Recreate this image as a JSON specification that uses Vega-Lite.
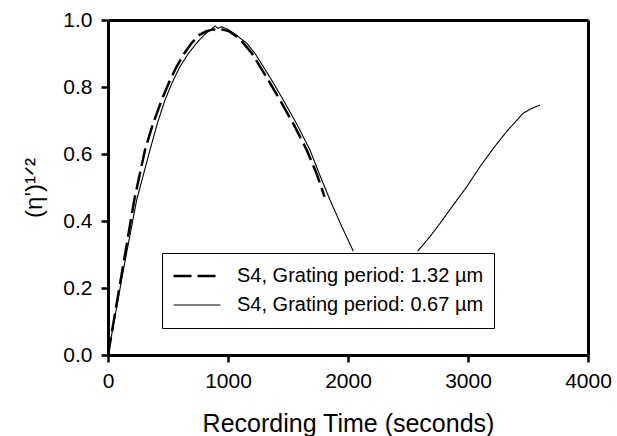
{
  "$schema": "https://vega.github.io/schema/vega-lite/v6.json",
  "autosize": "none",
  "width": 480,
  "height": 335,
  "padding": {"left": 108, "top": 20, "right": 29, "bottom": 81},
  "background": "white",
  "config": {
    "font": "Liberation Sans",
    "view": {"stroke": null},
    "axis": {
      "domainColor": "black", "domainWidth": 3,
      "tickColor": "black", "tickWidth": 2.5, "tickSize": 7,
      "labelColor": "black", "labelFontSize": 21, "labelFont": "Liberation Sans",
      "titleColor": "black", "titleFont": "Liberation Sans", "titleFontWeight": "normal",
      "grid": false
    }
  },
  "data": {
    "values": [
      {"series": "S4, Grating period: 1.32 µm", "part": "a", "t": 0, "v": 0},
      {"series": "S4, Grating period: 1.32 µm", "part": "a", "t": 120, "v": 0.254},
      {"series": "S4, Grating period: 1.32 µm", "part": "a", "t": 219, "v": 0.463},
      {"series": "S4, Grating period: 1.32 µm", "part": "a", "t": 308, "v": 0.612},
      {"series": "S4, Grating period: 1.32 µm", "part": "a", "t": 375, "v": 0.69},
      {"series": "S4, Grating period: 1.32 µm", "part": "a", "t": 447, "v": 0.761},
      {"series": "S4, Grating period: 1.32 µm", "part": "a", "t": 510, "v": 0.815},
      {"series": "S4, Grating period: 1.32 µm", "part": "a", "t": 572, "v": 0.861},
      {"series": "S4, Grating period: 1.32 µm", "part": "a", "t": 635, "v": 0.9},
      {"series": "S4, Grating period: 1.32 µm", "part": "a", "t": 697, "v": 0.931},
      {"series": "S4, Grating period: 1.32 µm", "part": "a", "t": 760, "v": 0.955},
      {"series": "S4, Grating period: 1.32 µm", "part": "a", "t": 820, "v": 0.967},
      {"series": "S4, Grating period: 1.32 µm", "part": "a", "t": 880, "v": 0.972},
      {"series": "S4, Grating period: 1.32 µm", "part": "a", "t": 950, "v": 0.972},
      {"series": "S4, Grating period: 1.32 µm", "part": "a", "t": 1010, "v": 0.966},
      {"series": "S4, Grating period: 1.32 µm", "part": "a", "t": 1070, "v": 0.952},
      {"series": "S4, Grating period: 1.32 µm", "part": "a", "t": 1128, "v": 0.931},
      {"series": "S4, Grating period: 1.32 µm", "part": "a", "t": 1200, "v": 0.9},
      {"series": "S4, Grating period: 1.32 µm", "part": "a", "t": 1267, "v": 0.861},
      {"series": "S4, Grating period: 1.32 µm", "part": "a", "t": 1350, "v": 0.812},
      {"series": "S4, Grating period: 1.32 µm", "part": "a", "t": 1433, "v": 0.761},
      {"series": "S4, Grating period: 1.32 µm", "part": "a", "t": 1545, "v": 0.69},
      {"series": "S4, Grating period: 1.32 µm", "part": "a", "t": 1656, "v": 0.612},
      {"series": "S4, Grating period: 1.32 µm", "part": "a", "t": 1740, "v": 0.54},
      {"series": "S4, Grating period: 1.32 µm", "part": "a", "t": 1805, "v": 0.472},
      {"series": "S4, Grating period: 0.67 µm", "part": "a", "t": 0, "v": 0},
      {"series": "S4, Grating period: 0.67 µm", "part": "a", "t": 128, "v": 0.254},
      {"series": "S4, Grating period: 0.67 µm", "part": "a", "t": 239, "v": 0.463},
      {"series": "S4, Grating period: 0.67 µm", "part": "a", "t": 350, "v": 0.612},
      {"series": "S4, Grating period: 0.67 µm", "part": "a", "t": 410, "v": 0.69},
      {"series": "S4, Grating period: 0.67 µm", "part": "a", "t": 475, "v": 0.761},
      {"series": "S4, Grating period: 0.67 µm", "part": "a", "t": 537, "v": 0.815},
      {"series": "S4, Grating period: 0.67 µm", "part": "a", "t": 600, "v": 0.861},
      {"series": "S4, Grating period: 0.67 µm", "part": "a", "t": 670, "v": 0.9},
      {"series": "S4, Grating period: 0.67 µm", "part": "a", "t": 739, "v": 0.931},
      {"series": "S4, Grating period: 0.67 µm", "part": "a", "t": 800, "v": 0.955},
      {"series": "S4, Grating period: 0.67 µm", "part": "a", "t": 860, "v": 0.972},
      {"series": "S4, Grating period: 0.67 µm", "part": "a", "t": 892, "v": 0.982},
      {"series": "S4, Grating period: 0.67 µm", "part": "a", "t": 915, "v": 0.975},
      {"series": "S4, Grating period: 0.67 µm", "part": "a", "t": 945, "v": 0.98},
      {"series": "S4, Grating period: 0.67 µm", "part": "a", "t": 1000, "v": 0.972},
      {"series": "S4, Grating period: 0.67 µm", "part": "a", "t": 1060, "v": 0.957},
      {"series": "S4, Grating period: 0.67 µm", "part": "a", "t": 1156, "v": 0.931},
      {"series": "S4, Grating period: 0.67 µm", "part": "a", "t": 1225, "v": 0.9},
      {"series": "S4, Grating period: 0.67 µm", "part": "a", "t": 1294, "v": 0.861},
      {"series": "S4, Grating period: 0.67 µm", "part": "a", "t": 1378, "v": 0.812},
      {"series": "S4, Grating period: 0.67 µm", "part": "a", "t": 1461, "v": 0.761},
      {"series": "S4, Grating period: 0.67 µm", "part": "a", "t": 1572, "v": 0.69},
      {"series": "S4, Grating period: 0.67 µm", "part": "a", "t": 1683, "v": 0.612},
      {"series": "S4, Grating period: 0.67 µm", "part": "a", "t": 1767, "v": 0.535},
      {"series": "S4, Grating period: 0.67 µm", "part": "a", "t": 1850, "v": 0.463},
      {"series": "S4, Grating period: 0.67 µm", "part": "a", "t": 1950, "v": 0.382},
      {"series": "S4, Grating period: 0.67 µm", "part": "a", "t": 2044, "v": 0.31},
      {"series": "S4, Grating period: 0.67 µm", "part": "b", "t": 2580, "v": 0.31},
      {"series": "S4, Grating period: 0.67 µm", "part": "b", "t": 2680, "v": 0.352},
      {"series": "S4, Grating period: 0.67 µm", "part": "b", "t": 2767, "v": 0.393},
      {"series": "S4, Grating period: 0.67 µm", "part": "b", "t": 2878, "v": 0.448},
      {"series": "S4, Grating period: 0.67 µm", "part": "b", "t": 2989, "v": 0.502},
      {"series": "S4, Grating period: 0.67 µm", "part": "b", "t": 3100, "v": 0.562},
      {"series": "S4, Grating period: 0.67 µm", "part": "b", "t": 3211, "v": 0.617},
      {"series": "S4, Grating period: 0.67 µm", "part": "b", "t": 3322, "v": 0.667},
      {"series": "S4, Grating period: 0.67 µm", "part": "b", "t": 3400, "v": 0.698},
      {"series": "S4, Grating period: 0.67 µm", "part": "b", "t": 3461, "v": 0.722},
      {"series": "S4, Grating period: 0.67 µm", "part": "b", "t": 3530, "v": 0.736},
      {"series": "S4, Grating period: 0.67 µm", "part": "b", "t": 3600, "v": 0.746}
    ]
  },
  "resolve": {"axis": {"x": "independent", "y": "independent"}},
  "layer": [
    {
      "mark": {"type": "line", "opacity": 0},
      "encoding": {
        "x": {"field": "t", "type": "quantitative", "scale": {"domain": [0, 4000], "nice": false},
              "axis": {"orient": "top", "labels": false, "ticks": false, "title": null}},
        "y": {"field": "v", "type": "quantitative", "scale": {"domain": [0, 1], "nice": false},
              "axis": {"orient": "right", "labels": false, "ticks": false, "title": null}},
        "detail": {"field": "part", "type": "nominal"}
      }
    },
    {
      "mark": {"type": "line", "color": "black", "clip": true},
      "encoding": {
        "x": {
          "field": "t", "type": "quantitative",
          "scale": {"domain": [0, 4000], "nice": false},
          "axis": {"orient": "bottom", "values": [0, 1000, 2000, 3000, 4000], "format": "d", "title": "Recording Time (seconds)",
                   "titleFontSize": 25, "titlePadding": 20, "labelPadding": 8, "labelFontSize": 21, "labelFlush": false}
        },
        "y": {
          "field": "v", "type": "quantitative",
          "scale": {"domain": [0, 1], "nice": false},
          "axis": {"orient": "left", "values": [0, 0.2, 0.4, 0.6, 0.8, 1.0], "format": ".1f", "title": "(η')¹ᐟ²",
                   "titleFontSize": 24, "titlePadding": 16, "labelPadding": 9, "labelFontSize": 21, "labelFlush": false}
        },
        "detail": {"field": "part", "type": "nominal"},
        "strokeDash": {
          "field": "series", "type": "nominal",
          "scale": {"domain": ["S4, Grating period: 1.32 µm", "S4, Grating period: 0.67 µm"],
                    "range": [[18, 6], [1, 0]]},
          "legend": {
            "title": null, "orient": "none", "legendX": 54, "legendY": 233,
            "fillColor": "white", "strokeColor": "black", "padding": 10,
            "labelFontSize": 20, "labelColor": "black", "labelFont": "Liberation Sans", "labelLimit": 0,
            "symbolSize": 2200, "symbolType": "stroke", "symbolStrokeColor": "black",
            "labelOffset": 15, "clipHeight": 26, "rowPadding": 3
          }
        },
        "strokeWidth": {
          "field": "series", "type": "nominal",
          "scale": {"domain": ["S4, Grating period: 1.32 µm", "S4, Grating period: 0.67 µm"],
                    "range": [2.5, 1.1]},
          "legend": {
            "title": null, "orient": "none", "legendX": 54, "legendY": 233,
            "fillColor": "white", "strokeColor": "black", "padding": 10,
            "labelFontSize": 20, "labelColor": "black", "labelFont": "Liberation Sans", "labelLimit": 0,
            "symbolSize": 2200, "symbolType": "stroke", "symbolStrokeColor": "black",
            "labelOffset": 15, "clipHeight": 26, "rowPadding": 3
          }
        }
      }
    }
  ]
}
